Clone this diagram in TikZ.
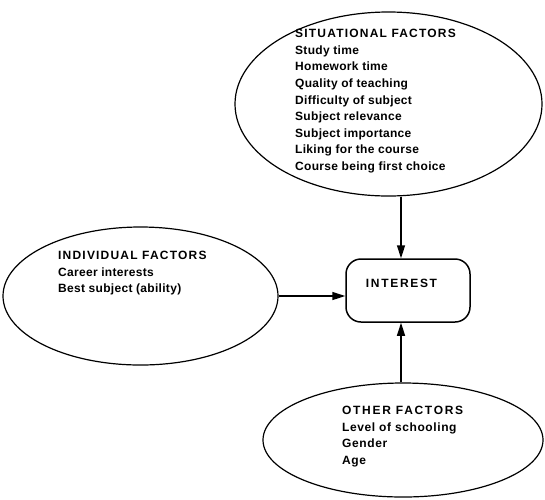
\documentclass[tikz,border=0pt]{standalone}
\usepackage{fontspec}
\setmainfont{Liberation Sans}
\newfontfamily\hdfont{Liberation Sans}[LetterSpace=10]
\newfontfamily\bdfont{Liberation Sans}[LetterSpace=2.5]
\newfontfamily\hdfontb{Liberation Sans}[LetterSpace=14]
\newfontfamily\bdfontb{Liberation Sans}[LetterSpace=5]
\usetikzlibrary{shapes.geometric,arrows.meta}
\begin{document}
\begin{tikzpicture}[x=1pt,y=1pt,
  oval/.style={draw, ellipse, line width=1.2pt, inner sep=0pt},
  txt/.style={anchor=north west, inner sep=0pt, align=left, font=\fontsize{12}{16.6}\selectfont\bfseries},
  arr/.style={line width=1.5pt, -{Triangle[length=13pt,width=8pt]}, shorten >=0pt}
]
\useasboundingbox (0,0) rectangle (545,-499);
% ellipses
\node[oval, minimum width=307pt, minimum height=184pt] (sit) at (388.5,-104) {};
\node[oval, minimum width=275pt, minimum height=138pt] (ind) at (140.5,-296) {};
\node[oval, minimum width=280pt, minimum height=114pt] (oth) at (403,-440) {};
% central box
\node[draw, line width=1.5pt, rounded corners=15pt, minimum width=124pt, minimum height=63pt, inner sep=0pt] (int) at (408,-290.5) {};
\node[inner sep=0pt, anchor=base, font=\fontsize{12}{14}\selectfont\bfseries] (intl) at (401.5,-287) {\hdfontb INTEREST};
% texts
\node[txt] (sitt) at (295,-29.2) {{\hdfont SITUATIONAL FACTORS}\\ \bdfont Study time\\ \bdfont Homework time\\ \bdfont Quality of teaching\\ \bdfont Difficulty of subject\\ \bdfont Subject relevance\\ \bdfont Subject importance\\ \bdfont Liking for the course\\ \bdfont Course being first choice};
\node[txt] (indt) at (58,-251.2) {{\hdfont INDIVIDUAL FACTORS}\\ \bdfont Career interests\\ \bdfont Best subject (ability)};
\node[txt] (otht) at (342,-406.2) {{\hdfontb OTHER FACTORS}\\ \bdfontb Level of schooling\\ \bdfontb Gender\\ \bdfontb Age};
% arrows
\coordinate (ax) at (401,0);
\draw[arr] (ax |- sit.south) -- (ax |- int.north);
\draw[arr] (ind.east) -- (ind.east -| int.west);
\draw[arr] (ax |- oth.north) -- (ax |- int.south);
\end{tikzpicture}
\end{document}
